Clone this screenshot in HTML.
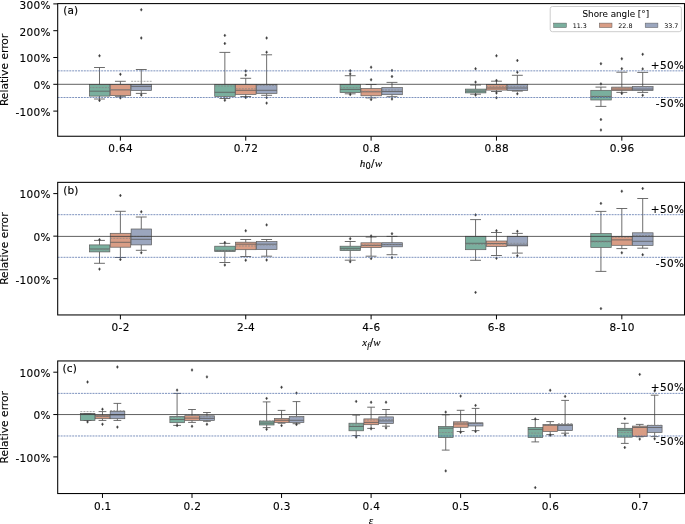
<!DOCTYPE html>
<html lang="en"><head><meta charset="utf-8"><title>Relative error box plots</title>
<style>html,body{margin:0;padding:0;background:#fff}svg{display:block}text{font-family:"DejaVu Sans","Liberation Sans",sans-serif;fill:#000;letter-spacing:0.32px;stroke:#000;stroke-width:0.12px}.m{font-family:"Liberation Serif","DejaVu Serif",serif;font-style:italic}</style></head><body>
<svg width="685" height="524" viewBox="0 0 685 524">
<rect width="685" height="524" fill="#fff"/>
<g>
<rect x="89.35" y="84.5" width="20.48" height="11.6" fill="#7aaf9e" stroke="#5c5c5c" stroke-width="0.7"/>
<rect x="110.24" y="84.5" width="20.48" height="11.1" fill="#d99d85" stroke="#5c5c5c" stroke-width="0.7"/>
<rect x="131.14" y="84.5" width="20.48" height="6" fill="#9ba6be" stroke="#5c5c5c" stroke-width="0.7"/>
<rect x="214.71" y="84.5" width="20.48" height="11.9" fill="#7aaf9e" stroke="#5c5c5c" stroke-width="0.7"/>
<rect x="235.6" y="84.5" width="20.48" height="9.9" fill="#d99d85" stroke="#5c5c5c" stroke-width="0.7"/>
<rect x="256.5" y="84.5" width="20.48" height="8.9" fill="#9ba6be" stroke="#5c5c5c" stroke-width="0.7"/>
<rect x="340.07" y="84.5" width="20.48" height="8.1" fill="#7aaf9e" stroke="#5c5c5c" stroke-width="0.7"/>
<rect x="360.96" y="88.6" width="20.48" height="7.2" fill="#d99d85" stroke="#5c5c5c" stroke-width="0.7"/>
<rect x="381.86" y="87.6" width="20.48" height="7.1" fill="#9ba6be" stroke="#5c5c5c" stroke-width="0.7"/>
<rect x="465.43" y="89.1" width="20.48" height="3.8" fill="#7aaf9e" stroke="#5c5c5c" stroke-width="0.7"/>
<rect x="486.32" y="84.5" width="20.48" height="5.6" fill="#d99d85" stroke="#5c5c5c" stroke-width="0.7"/>
<rect x="507.22" y="84.5" width="20.48" height="6" fill="#9ba6be" stroke="#5c5c5c" stroke-width="0.7"/>
<rect x="590.79" y="90.3" width="20.48" height="9.7" fill="#7aaf9e" stroke="#5c5c5c" stroke-width="0.7"/>
<rect x="611.68" y="87.1" width="20.48" height="3.4" fill="#d99d85" stroke="#5c5c5c" stroke-width="0.7"/>
<rect x="632.58" y="86.4" width="20.48" height="4.1" fill="#9ba6be" stroke="#5c5c5c" stroke-width="0.7"/>
<path d="M99.49 84.5V67.5M99.49 96.1V99M94.05 67.5H104.92M94.05 99H104.92M120.38 84.5V81.3M120.38 95.6V96.7M114.95 81.3H125.81M114.95 96.7H125.81M141.27 84.5V69.5M141.27 90.5V93.4M135.84 69.5H146.71M135.84 93.4H146.71M224.85 84.5V52.4M224.85 96.4V98.5M219.41 52.4H230.28M219.41 98.5H230.28M245.74 84.5V78.3M245.74 94.4V96.5M240.31 78.3H251.17M240.31 96.5H251.17M266.63 84.5V54.8M266.63 93.4V95.3M261.2 54.8H272.07M261.2 95.3H272.07M350.21 84.5V75.7M350.21 92.6V93.8M344.77 75.7H355.64M344.77 93.8H355.64M371.1 88.6V84.5M371.1 95.8V97.9M365.67 84.5H376.53M365.67 97.9H376.53M391.99 87.6V82.4M391.99 94.7V96.7M386.56 82.4H397.43M386.56 96.7H397.43M475.57 89.1V85M475.57 92.9V94.2M470.13 85H481M470.13 94.2H481M496.46 84.5V81.2M496.46 90.1V91.5M491.03 81.2H501.89M491.03 91.5H501.89M517.35 84.5V75.3M517.35 90.5V91.1M511.92 75.3H522.79M511.92 91.1H522.79M600.93 90.3V87.1M600.93 100V106.4M595.49 87.1H606.36M595.49 106.4H606.36M621.82 87.1V72.2M621.82 90.5V92.4M616.39 72.2H627.25M616.39 92.4H627.25M642.71 86.4V72.4M642.71 90.5V92.4M637.28 72.4H648.15M637.28 92.4H648.15" fill="none" stroke="#5c5c5c" stroke-width="0.9"/>
<path d="M89.35 91.2H109.82M110.24 89.9H130.72M131.14 86.4H151.61M214.71 92.3H235.18M235.6 90.3H256.08M256.5 90.3H276.97M340.07 89.4H360.54M360.96 91.8H381.44M381.86 91.5H402.33M465.43 91.1H485.9M486.32 88H506.8M507.22 88H527.69M590.79 96.5H611.26M611.68 89.1H632.16M632.58 89.1H653.05" fill="none" stroke="#5c5c5c" stroke-width="0.8"/>
<path d="M89.35 87.6H109.82M110.24 89.5H130.72M131.14 81.3H151.61M214.71 86H235.18M235.6 88.8H256.08M256.5 85.4H276.97M340.07 87.6H360.54M360.96 91.3H381.44M381.86 90H402.33M465.43 90.3H485.9M486.32 86.4H506.8M507.22 86.4H527.69M590.79 96.2H611.26M611.68 87.6H632.16M632.58 86.8H653.05" fill="none" stroke="#858585" stroke-width="0.75" stroke-dasharray="2 1.1"/>
<path d="M99.49 54.35l1 1.45l-1 1.45l-1 -1.45zM99.49 99.05l1 1.45l-1 1.45l-1 -1.45zM120.38 72.85l1 1.45l-1 1.45l-1 -1.45zM120.38 96.45l1 1.45l-1 1.45l-1 -1.45zM141.27 8.35l1 1.45l-1 1.45l-1 -1.45zM141.27 36.55l1 1.45l-1 1.45l-1 -1.45zM141.27 93.55l1 1.45l-1 1.45l-1 -1.45zM224.85 33.95l1 1.45l-1 1.45l-1 -1.45zM224.85 42.05l1 1.45l-1 1.45l-1 -1.45zM224.85 98.75l1 1.45l-1 1.45l-1 -1.45zM245.74 73.65l1 1.45l-1 1.45l-1 -1.45zM245.74 69.55l1 1.45l-1 1.45l-1 -1.45zM245.74 96.15l1 1.45l-1 1.45l-1 -1.45zM266.63 36.55l1 1.45l-1 1.45l-1 -1.45zM266.63 50.75l1 1.45l-1 1.45l-1 -1.45zM266.63 96.15l1 1.45l-1 1.45l-1 -1.45zM266.63 101.65l1 1.45l-1 1.45l-1 -1.45zM350.21 72.45l1 1.45l-1 1.45l-1 -1.45zM350.21 69.35l1 1.45l-1 1.45l-1 -1.45zM350.21 93.15l1 1.45l-1 1.45l-1 -1.45zM371.1 78.35l1 1.45l-1 1.45l-1 -1.45zM371.1 65.75l1 1.45l-1 1.45l-1 -1.45zM371.1 98.15l1 1.45l-1 1.45l-1 -1.45zM391.99 75.05l1 1.45l-1 1.45l-1 -1.45zM391.99 68.95l1 1.45l-1 1.45l-1 -1.45zM391.99 97.55l1 1.45l-1 1.45l-1 -1.45zM475.57 80.65l1 1.45l-1 1.45l-1 -1.45zM475.57 67.25l1 1.45l-1 1.45l-1 -1.45zM475.57 93.55l1 1.45l-1 1.45l-1 -1.45zM496.46 78.95l1 1.45l-1 1.45l-1 -1.45zM496.46 54.35l1 1.45l-1 1.45l-1 -1.45zM496.46 91.55l1 1.45l-1 1.45l-1 -1.45zM496.46 96.25l1 1.45l-1 1.45l-1 -1.45zM517.35 70.75l1 1.45l-1 1.45l-1 -1.45zM517.35 59.05l1 1.45l-1 1.45l-1 -1.45zM517.35 92.35l1 1.45l-1 1.45l-1 -1.45zM600.93 82.45l1 1.45l-1 1.45l-1 -1.45zM600.93 62.25l1 1.45l-1 1.45l-1 -1.45zM600.93 118.05l1 1.45l-1 1.45l-1 -1.45zM600.93 128.55l1 1.45l-1 1.45l-1 -1.45zM621.82 67.25l1 1.45l-1 1.45l-1 -1.45zM621.82 57.35l1 1.45l-1 1.45l-1 -1.45zM621.82 92.05l1 1.45l-1 1.45l-1 -1.45zM642.71 67.45l1 1.45l-1 1.45l-1 -1.45zM642.71 52.85l1 1.45l-1 1.45l-1 -1.45zM642.71 93.85l1 1.45l-1 1.45l-1 -1.45z" fill="#3c3c3c" stroke="#3c3c3c" stroke-width="0.4"/>
<path d="M57.7 84.3H684.5" stroke="#383838" stroke-width="0.8"/>
<path d="M57.7 70.85H684.5" stroke="#4766a4" stroke-width="0.7" stroke-dasharray="2 0.9" fill="none"/>
<path d="M57.7 97.5H684.5" stroke="#4766a4" stroke-width="0.7" stroke-dasharray="2 0.9" fill="none"/>
<rect x="57.7" y="3.6" width="626.8" height="132.65" fill="none" stroke="#000" stroke-width="1.05"/>
<path d="M57.7 3.9h-4.4M57.7 30.7h-4.4M57.7 57.5h-4.4M57.7 84.3h-4.4M57.7 111.1h-4.4M120.38 136.25v4.4M245.74 136.25v4.4M371.1 136.25v4.4M496.46 136.25v4.4M621.82 136.25v4.4" stroke="#000" stroke-width="1" fill="none"/>
<text x="50.9" y="8.7" font-size="10.5" text-anchor="end">300%</text>
<text x="50.9" y="35.5" font-size="10.5" text-anchor="end">200%</text>
<text x="50.9" y="62.3" font-size="10.5" text-anchor="end">100%</text>
<text x="50.9" y="89.1" font-size="10.5" text-anchor="end">0%</text>
<text x="50.9" y="115.9" font-size="10.5" text-anchor="end">-100%</text>
<text x="120.68" y="152.05" font-size="10.5" text-anchor="middle">0.64</text>
<text x="246.04" y="152.05" font-size="10.5" text-anchor="middle">0.72</text>
<text x="371.4" y="152.05" font-size="10.5" text-anchor="middle">0.8</text>
<text x="496.76" y="152.05" font-size="10.5" text-anchor="middle">0.88</text>
<text x="622.12" y="152.05" font-size="10.5" text-anchor="middle">0.96</text>
<text transform="translate(8.3 69.92) rotate(-90)" font-size="10.7" style="letter-spacing:0" text-anchor="middle">Relative error</text>
<text x="63.3" y="14.1" font-size="10.5" style="letter-spacing:0.1px">(a)</text>
<text x="684.2" y="68.8" font-size="10.5" style="letter-spacing:0.3px" text-anchor="end">+50%</text>
<text x="684.2" y="107.2" font-size="10.5" style="letter-spacing:0.3px" text-anchor="end">-50%</text>
<text x="371.1" y="166.75" font-size="11.2" style="letter-spacing:0.15px" text-anchor="middle"><tspan class="m">h</tspan><tspan font-size="8.3" dy="2">0</tspan><tspan dy="-2" font-size="10.5">/</tspan><tspan class="m">w</tspan></text>
</g>
<g>
<rect x="89.35" y="244.9" width="20.48" height="7" fill="#7aaf9e" stroke="#5c5c5c" stroke-width="0.7"/>
<rect x="110.24" y="233.3" width="20.48" height="13.9" fill="#d99d85" stroke="#5c5c5c" stroke-width="0.7"/>
<rect x="131.14" y="229" width="20.48" height="15.9" fill="#9ba6be" stroke="#5c5c5c" stroke-width="0.7"/>
<rect x="214.71" y="246.2" width="20.48" height="5.4" fill="#7aaf9e" stroke="#5c5c5c" stroke-width="0.7"/>
<rect x="235.6" y="242.2" width="20.48" height="7.5" fill="#d99d85" stroke="#5c5c5c" stroke-width="0.7"/>
<rect x="256.5" y="241.6" width="20.48" height="7.9" fill="#9ba6be" stroke="#5c5c5c" stroke-width="0.7"/>
<rect x="340.07" y="246.2" width="20.48" height="4.4" fill="#7aaf9e" stroke="#5c5c5c" stroke-width="0.7"/>
<rect x="360.96" y="242.8" width="20.48" height="4.7" fill="#d99d85" stroke="#5c5c5c" stroke-width="0.7"/>
<rect x="381.86" y="242.7" width="20.48" height="4.1" fill="#9ba6be" stroke="#5c5c5c" stroke-width="0.7"/>
<rect x="465.43" y="236.3" width="20.48" height="13.4" fill="#7aaf9e" stroke="#5c5c5c" stroke-width="0.7"/>
<rect x="486.32" y="241" width="20.48" height="5.5" fill="#d99d85" stroke="#5c5c5c" stroke-width="0.7"/>
<rect x="507.22" y="236.3" width="20.48" height="9.6" fill="#9ba6be" stroke="#5c5c5c" stroke-width="0.7"/>
<rect x="590.79" y="233.6" width="20.48" height="13.9" fill="#7aaf9e" stroke="#5c5c5c" stroke-width="0.7"/>
<rect x="611.68" y="236.6" width="20.48" height="8.7" fill="#d99d85" stroke="#5c5c5c" stroke-width="0.7"/>
<rect x="632.58" y="232.8" width="20.48" height="12.6" fill="#9ba6be" stroke="#5c5c5c" stroke-width="0.7"/>
<path d="M99.49 244.9V240.4M99.49 251.9V263.3M94.05 240.4H104.92M94.05 263.3H104.92M120.38 233.3V211.3M120.38 247.2V257.5M114.95 211.3H125.81M114.95 257.5H125.81M141.27 229V217M141.27 244.9V250.3M135.84 217H146.71M135.84 250.3H146.71M224.85 246.2V243.4M224.85 251.6V262.5M219.41 243.4H230.28M219.41 262.5H230.28M245.74 242.2V239.5M245.74 249.7V256.5M240.31 239.5H251.17M240.31 256.5H251.17M266.63 241.6V239.5M266.63 249.5V256.2M261.2 239.5H272.07M261.2 256.2H272.07M350.21 246.2V241.5M350.21 250.6V260.2M344.77 241.5H355.64M344.77 260.2H355.64M371.1 242.8V237M371.1 247.5V256.2M365.67 237H376.53M365.67 256.2H376.53M391.99 242.7V236.4M391.99 246.8V254.7M386.56 236.4H397.43M386.56 254.7H397.43M475.57 236.3V219.6M475.57 249.7V260.3M470.13 219.6H481M470.13 260.3H481M496.46 241V232.5M496.46 246.5V255.5M491.03 232.5H501.89M491.03 255.5H501.89M517.35 236.3V233.4M517.35 245.9V253.1M511.92 233.4H522.79M511.92 253.1H522.79M600.93 233.6V211.4M600.93 247.5V271.4M595.49 211.4H606.36M595.49 271.4H606.36M621.82 236.6V208.5M621.82 245.3V248.6M616.39 208.5H627.25M616.39 248.6H627.25M642.71 232.8V198.5M642.71 245.4V248.2M637.28 198.5H648.15M637.28 248.2H648.15" fill="none" stroke="#5c5c5c" stroke-width="0.9"/>
<path d="M89.35 249H109.82M110.24 242.3H130.72M131.14 239.3H151.61M214.71 250.4H235.18M235.6 244.2H256.08M256.5 244.2H276.97M340.07 248.3H360.54M360.96 245.4H381.44M381.86 244.6H402.33M465.43 243.3H485.9M486.32 243.5H506.8M507.22 245.1H527.69M590.79 241.3H611.26M611.68 239.9H632.16M632.58 241.3H653.05" fill="none" stroke="#5c5c5c" stroke-width="0.8"/>
<path d="M89.35 249.8H109.82M110.24 238.3H130.72M131.14 236.3H151.61M214.71 250.8H235.18M235.6 246H256.08M256.5 245H276.97M340.07 249.5H360.54M360.96 245H381.44M381.86 244.3H402.33M465.43 244.4H485.9M486.32 244.1H506.8M507.22 243.3H527.69M590.79 242H611.26M611.68 237.2H632.16M632.58 235.5H653.05" fill="none" stroke="#858585" stroke-width="0.75" stroke-dasharray="2 1.1"/>
<path d="M99.49 238.15l1 1.45l-1 1.45l-1 -1.45zM99.49 267.65l1 1.45l-1 1.45l-1 -1.45zM120.38 194.05l1 1.45l-1 1.45l-1 -1.45zM120.38 258.05l1 1.45l-1 1.45l-1 -1.45zM141.27 210.35l1 1.45l-1 1.45l-1 -1.45zM141.27 251.25l1 1.45l-1 1.45l-1 -1.45zM224.85 241.05l1 1.45l-1 1.45l-1 -1.45zM224.85 263.55l1 1.45l-1 1.45l-1 -1.45zM245.74 229.35l1 1.45l-1 1.45l-1 -1.45zM245.74 258.75l1 1.45l-1 1.45l-1 -1.45zM266.63 223.45l1 1.45l-1 1.45l-1 -1.45zM266.63 258.55l1 1.45l-1 1.45l-1 -1.45zM350.21 237.25l1 1.45l-1 1.45l-1 -1.45zM350.21 260.25l1 1.45l-1 1.45l-1 -1.45zM371.1 234.55l1 1.45l-1 1.45l-1 -1.45zM371.1 257.15l1 1.45l-1 1.45l-1 -1.45zM391.99 232.25l1 1.45l-1 1.45l-1 -1.45zM391.99 256.15l1 1.45l-1 1.45l-1 -1.45zM475.57 213.45l1 1.45l-1 1.45l-1 -1.45zM475.57 290.95l1 1.45l-1 1.45l-1 -1.45zM496.46 229.25l1 1.45l-1 1.45l-1 -1.45zM496.46 256.75l1 1.45l-1 1.45l-1 -1.45zM517.35 229.85l1 1.45l-1 1.45l-1 -1.45zM517.35 254.35l1 1.45l-1 1.45l-1 -1.45zM600.93 201.95l1 1.45l-1 1.45l-1 -1.45zM600.93 307.15l1 1.45l-1 1.45l-1 -1.45zM621.82 189.75l1 1.45l-1 1.45l-1 -1.45zM621.82 251.35l1 1.45l-1 1.45l-1 -1.45zM642.71 187.05l1 1.45l-1 1.45l-1 -1.45zM642.71 253.25l1 1.45l-1 1.45l-1 -1.45z" fill="#3c3c3c" stroke="#3c3c3c" stroke-width="0.4"/>
<path d="M57.7 236.4H684.5" stroke="#383838" stroke-width="0.8"/>
<path d="M57.7 214.68H684.5" stroke="#4766a4" stroke-width="0.7" stroke-dasharray="2 0.9" fill="none"/>
<path d="M57.7 257.32H684.5" stroke="#4766a4" stroke-width="0.7" stroke-dasharray="2 0.9" fill="none"/>
<rect x="57.7" y="182.35" width="626.8" height="132.6" fill="none" stroke="#000" stroke-width="1.05"/>
<path d="M57.7 193.6h-4.4M57.7 236.15h-4.4M57.7 278.7h-4.4M120.38 314.95v4.4M245.74 314.95v4.4M371.1 314.95v4.4M496.46 314.95v4.4M621.82 314.95v4.4" stroke="#000" stroke-width="1" fill="none"/>
<text x="50.9" y="198.4" font-size="10.5" text-anchor="end">100%</text>
<text x="50.9" y="240.95" font-size="10.5" text-anchor="end">0%</text>
<text x="50.9" y="283.5" font-size="10.5" text-anchor="end">-100%</text>
<text x="120.68" y="330.75" font-size="10.5" text-anchor="middle">0-2</text>
<text x="246.04" y="330.75" font-size="10.5" text-anchor="middle">2-4</text>
<text x="371.4" y="330.75" font-size="10.5" text-anchor="middle">4-6</text>
<text x="496.76" y="330.75" font-size="10.5" text-anchor="middle">6-8</text>
<text x="622.12" y="330.75" font-size="10.5" text-anchor="middle">8-10</text>
<text transform="translate(8.3 248.65) rotate(-90)" font-size="10.7" style="letter-spacing:0" text-anchor="middle">Relative error</text>
<text x="63.3" y="193.65" font-size="10.5" style="letter-spacing:0.1px">(b)</text>
<text x="684.2" y="212.78" font-size="10.5" style="letter-spacing:0.3px" text-anchor="end">+50%</text>
<text x="684.2" y="266.93" font-size="10.5" style="letter-spacing:0.3px" text-anchor="end">-50%</text>
<text x="371.5" y="346.15" font-size="10.9" style="letter-spacing:0.1px" text-anchor="middle"><tspan class="m">x</tspan><tspan class="m" font-size="8.3" dy="1.7">f</tspan><tspan dy="-1.7" font-size="10.5">/</tspan><tspan class="m">w</tspan></text>
</g>
<g>
<rect x="80.33" y="413.5" width="14.63" height="7" fill="#7aaf9e" stroke="#5c5c5c" stroke-width="0.7"/>
<rect x="95.26" y="415.1" width="14.63" height="3.6" fill="#d99d85" stroke="#5c5c5c" stroke-width="0.7"/>
<rect x="110.18" y="411.3" width="14.63" height="7.4" fill="#9ba6be" stroke="#5c5c5c" stroke-width="0.7"/>
<rect x="169.88" y="416.4" width="14.63" height="6.3" fill="#7aaf9e" stroke="#5c5c5c" stroke-width="0.7"/>
<rect x="184.8" y="415.7" width="14.63" height="4.8" fill="#d99d85" stroke="#5c5c5c" stroke-width="0.7"/>
<rect x="199.73" y="415.8" width="14.63" height="4.7" fill="#9ba6be" stroke="#5c5c5c" stroke-width="0.7"/>
<rect x="259.42" y="421.1" width="14.63" height="3.9" fill="#7aaf9e" stroke="#5c5c5c" stroke-width="0.7"/>
<rect x="274.34" y="418.5" width="14.63" height="4" fill="#d99d85" stroke="#5c5c5c" stroke-width="0.7"/>
<rect x="289.27" y="416.5" width="14.63" height="6" fill="#9ba6be" stroke="#5c5c5c" stroke-width="0.7"/>
<rect x="348.96" y="423.2" width="14.63" height="7.6" fill="#7aaf9e" stroke="#5c5c5c" stroke-width="0.7"/>
<rect x="363.89" y="418.9" width="14.63" height="5.8" fill="#d99d85" stroke="#5c5c5c" stroke-width="0.7"/>
<rect x="378.81" y="416.9" width="14.63" height="6.6" fill="#9ba6be" stroke="#5c5c5c" stroke-width="0.7"/>
<rect x="438.51" y="426.5" width="14.63" height="11.1" fill="#7aaf9e" stroke="#5c5c5c" stroke-width="0.7"/>
<rect x="453.43" y="421.8" width="14.63" height="5.5" fill="#d99d85" stroke="#5c5c5c" stroke-width="0.7"/>
<rect x="468.35" y="422.9" width="14.63" height="3.1" fill="#9ba6be" stroke="#5c5c5c" stroke-width="0.7"/>
<rect x="528.05" y="427.4" width="14.63" height="10.2" fill="#7aaf9e" stroke="#5c5c5c" stroke-width="0.7"/>
<rect x="542.97" y="424.5" width="14.63" height="7" fill="#d99d85" stroke="#5c5c5c" stroke-width="0.7"/>
<rect x="557.9" y="424.5" width="14.63" height="6.1" fill="#9ba6be" stroke="#5c5c5c" stroke-width="0.7"/>
<rect x="617.59" y="428.3" width="14.63" height="8.9" fill="#7aaf9e" stroke="#5c5c5c" stroke-width="0.7"/>
<rect x="632.52" y="426.1" width="14.63" height="10.3" fill="#d99d85" stroke="#5c5c5c" stroke-width="0.7"/>
<rect x="647.44" y="425.4" width="14.63" height="7.1" fill="#9ba6be" stroke="#5c5c5c" stroke-width="0.7"/>
<path d="M83.67 413.5H91.43M83.67 420.5H91.43M102.47 415.1V411.6M102.47 418.7V420.45M98.59 411.6H106.35M98.59 420.45H106.35M117.4 411.3V403.4M117.4 418.7V420.45M113.52 403.4H121.28M113.52 420.45H121.28M177.09 416.4V393.4M177.09 422.7V425.4M173.21 393.4H180.97M173.21 425.4H180.97M192.01 415.7V409.5M192.01 420.5V422.4M188.13 409.5H195.89M188.13 422.4H195.89M206.94 415.8V412.5M206.94 420.5V421.3M203.06 412.5H210.82M203.06 421.3H210.82M266.63 421.1V401.9M266.63 425V427.6M262.75 401.9H270.51M262.75 427.6H270.51M281.56 418.5V410.4M281.56 422.5V423.2M277.68 410.4H285.44M277.68 423.2H285.44M296.48 416.5V401.6M296.48 422.5V423.7M292.6 401.6H300.36M292.6 423.7H300.36M356.18 423.2V415.1M356.18 430.8V435.5M352.3 415.1H360.06M352.3 435.5H360.06M371.1 418.9V407.2M371.1 424.7V428.4M367.22 407.2H374.98M367.22 428.4H374.98M386.02 416.9V409.5M386.02 423.5V426.2M382.14 409.5H389.9M382.14 426.2H389.9M445.72 426.5V414.8M445.72 437.6V450.1M441.84 414.8H449.6M441.84 450.1H449.6M460.64 421.8V410.3M460.64 427.3V431.5M456.76 410.3H464.52M456.76 431.5H464.52M475.57 422.9V408.4M475.57 426V430.6M471.69 408.4H479.45M471.69 430.6H479.45M535.26 427.4V419.5M535.26 437.6V441.9M531.38 419.5H539.14M531.38 441.9H539.14M550.19 424.5V421.6M550.19 431.5V434.6M546.31 421.6H554.07M546.31 434.6H554.07M565.11 424.5V400.4M565.11 430.6V433.2M561.23 400.4H568.99M561.23 433.2H568.99M624.8 428.3V423.3M624.8 437.2V443.4M620.92 423.3H628.68M620.92 443.4H628.68M639.73 426.1V424.4M639.73 436.4V436.8M635.85 424.4H643.61M635.85 436.8H643.61M654.65 425.4V395.2M654.65 432.5V436.6M650.77 395.2H658.53M650.77 436.6H658.53" fill="none" stroke="#5c5c5c" stroke-width="0.9"/>
<path d="M80.33 414H94.96M95.26 416.3H109.88M110.18 414.9H124.81M169.88 419.5H184.5M184.8 418.1H199.43M199.73 418.4H214.35M259.42 423.1H274.05M274.34 420.3H288.97M289.27 420.3H303.89M348.96 426.5H363.59M363.89 422.4H378.51M378.81 420.9H393.44M438.51 428.2H453.13M453.43 424H468.06M468.35 423.3H482.98M528.05 429.4H542.67M542.97 425.3H557.6M557.9 425.5H572.52M617.59 430.1H632.22M632.52 427.5H647.14M647.44 427.5H662.07" fill="none" stroke="#5c5c5c" stroke-width="0.8"/>
<path d="M80.33 411.6H94.96M95.26 416.6H109.88M110.18 410.6H124.81M169.88 417.2H184.5M184.8 415.2H199.43M199.73 416.8H214.35M259.42 420.8H274.05M274.34 419H288.97M289.27 417H303.89M348.96 425H363.59M363.89 420H378.51M378.81 419.5H393.44M438.51 432.5H453.13M453.43 422.6H468.06M468.35 423.2H482.98M528.05 433.1H542.67M542.97 424.9H557.6M557.9 423.6H572.52M617.59 432.5H632.22M632.52 426.4H647.14M647.44 425.2H662.07" fill="none" stroke="#858585" stroke-width="0.75" stroke-dasharray="2 1.1"/>
<path d="M87.55 380.55l1 1.45l-1 1.45l-1 -1.45zM87.55 420.45l1 1.45l-1 1.45l-1 -1.45zM102.47 407.75l1 1.45l-1 1.45l-1 -1.45zM102.47 422.75l1 1.45l-1 1.45l-1 -1.45zM117.4 365.55l1 1.45l-1 1.45l-1 -1.45zM117.4 425.65l1 1.45l-1 1.45l-1 -1.45zM177.09 388.65l1 1.45l-1 1.45l-1 -1.45zM177.09 424.15l1 1.45l-1 1.45l-1 -1.45zM192.01 368.55l1 1.45l-1 1.45l-1 -1.45zM192.01 424.75l1 1.45l-1 1.45l-1 -1.45zM206.94 375.45l1 1.45l-1 1.45l-1 -1.45zM206.94 422.75l1 1.45l-1 1.45l-1 -1.45zM266.63 396.95l1 1.45l-1 1.45l-1 -1.45zM266.63 427.85l1 1.45l-1 1.45l-1 -1.45zM281.56 385.85l1 1.45l-1 1.45l-1 -1.45zM281.56 424.15l1 1.45l-1 1.45l-1 -1.45zM296.48 391.65l1 1.45l-1 1.45l-1 -1.45zM296.48 423.15l1 1.45l-1 1.45l-1 -1.45zM356.18 399.95l1 1.45l-1 1.45l-1 -1.45zM356.18 435.55l1 1.45l-1 1.45l-1 -1.45zM371.1 400.85l1 1.45l-1 1.45l-1 -1.45zM371.1 427.35l1 1.45l-1 1.45l-1 -1.45zM386.02 400.75l1 1.45l-1 1.45l-1 -1.45zM386.02 426.45l1 1.45l-1 1.45l-1 -1.45zM445.72 410.65l1 1.45l-1 1.45l-1 -1.45zM445.72 469.45l1 1.45l-1 1.45l-1 -1.45zM460.64 394.65l1 1.45l-1 1.45l-1 -1.45zM460.64 430.85l1 1.45l-1 1.45l-1 -1.45zM475.57 403.95l1 1.45l-1 1.45l-1 -1.45zM475.57 430.05l1 1.45l-1 1.45l-1 -1.45zM535.26 417.45l1 1.45l-1 1.45l-1 -1.45zM535.26 486.15l1 1.45l-1 1.45l-1 -1.45zM550.19 388.85l1 1.45l-1 1.45l-1 -1.45zM550.19 433.75l1 1.45l-1 1.45l-1 -1.45zM565.11 394.95l1 1.45l-1 1.45l-1 -1.45zM565.11 433.55l1 1.45l-1 1.45l-1 -1.45zM624.8 417.15l1 1.45l-1 1.45l-1 -1.45zM624.8 446.05l1 1.45l-1 1.45l-1 -1.45zM639.73 372.95l1 1.45l-1 1.45l-1 -1.45zM639.73 437.65l1 1.45l-1 1.45l-1 -1.45zM654.65 389.45l1 1.45l-1 1.45l-1 -1.45zM654.65 437.35l1 1.45l-1 1.45l-1 -1.45z" fill="#3c3c3c" stroke="#3c3c3c" stroke-width="0.4"/>
<path d="M57.7 414.55H684.5" stroke="#383838" stroke-width="0.8"/>
<path d="M57.7 393.38H684.5" stroke="#4766a4" stroke-width="0.7" stroke-dasharray="2 0.9" fill="none"/>
<path d="M57.7 435.98H684.5" stroke="#4766a4" stroke-width="0.7" stroke-dasharray="2 0.9" fill="none"/>
<rect x="57.7" y="360.95" width="626.8" height="132.6" fill="none" stroke="#000" stroke-width="1.05"/>
<path d="M57.7 372.2h-4.4M57.7 414.55h-4.4M57.7 456.9h-4.4M102.47 493.55v4.4M192.01 493.55v4.4M281.56 493.55v4.4M371.1 493.55v4.4M460.64 493.55v4.4M550.19 493.55v4.4M639.73 493.55v4.4" stroke="#000" stroke-width="1" fill="none"/>
<text x="50.9" y="377" font-size="10.5" text-anchor="end">100%</text>
<text x="50.9" y="419.35" font-size="10.5" text-anchor="end">0%</text>
<text x="50.9" y="461.7" font-size="10.5" text-anchor="end">-100%</text>
<text x="102.77" y="509.75" font-size="10.5" text-anchor="middle">0.1</text>
<text x="192.31" y="509.75" font-size="10.5" text-anchor="middle">0.2</text>
<text x="281.86" y="509.75" font-size="10.5" text-anchor="middle">0.3</text>
<text x="371.4" y="509.75" font-size="10.5" text-anchor="middle">0.4</text>
<text x="460.94" y="509.75" font-size="10.5" text-anchor="middle">0.5</text>
<text x="550.49" y="509.75" font-size="10.5" text-anchor="middle">0.6</text>
<text x="640.03" y="509.75" font-size="10.5" text-anchor="middle">0.7</text>
<text transform="translate(8.3 427.25) rotate(-90)" font-size="10.7" style="letter-spacing:0" text-anchor="middle">Relative error</text>
<text x="62.6" y="372.45" font-size="10.5" style="letter-spacing:0.1px">(c)</text>
<text x="684.2" y="391.27" font-size="10.5" style="letter-spacing:0.3px" text-anchor="end">+50%</text>
<text x="684.2" y="445.23" font-size="10.5" style="letter-spacing:0.3px" text-anchor="end">-50%</text>
<text x="371.1" y="524.05" font-size="11.2" text-anchor="middle" class="m">ε</text>
</g>
<g>
<rect x="550.2" y="6.5" width="131.2" height="25.2" rx="2.2" fill="#fff" fill-opacity="0.8" stroke="#cdcdcd" stroke-width="1"/>
<text x="615.8" y="16.6" font-size="8.8" style="letter-spacing:0;stroke-width:0.05px" text-anchor="middle">Shore angle [°]</text>
<rect x="553.7" y="23.1" width="12.7" height="4.5" fill="#7aaf9e" stroke="#5c5c5c" stroke-width="0.5"/>
<text x="572.7" y="27.6" font-size="6.35" style="letter-spacing:0;stroke:none">11.3</text>
<rect x="599.3" y="23.1" width="12.7" height="4.5" fill="#d99d85" stroke="#5c5c5c" stroke-width="0.5"/>
<text x="618.3" y="27.6" font-size="6.35" style="letter-spacing:0;stroke:none">22.8</text>
<rect x="645.2" y="23.1" width="12.7" height="4.5" fill="#9ba6be" stroke="#5c5c5c" stroke-width="0.5"/>
<text x="664.2" y="27.6" font-size="6.35" style="letter-spacing:0;stroke:none">33.7</text>
</g>
</svg></body></html>
